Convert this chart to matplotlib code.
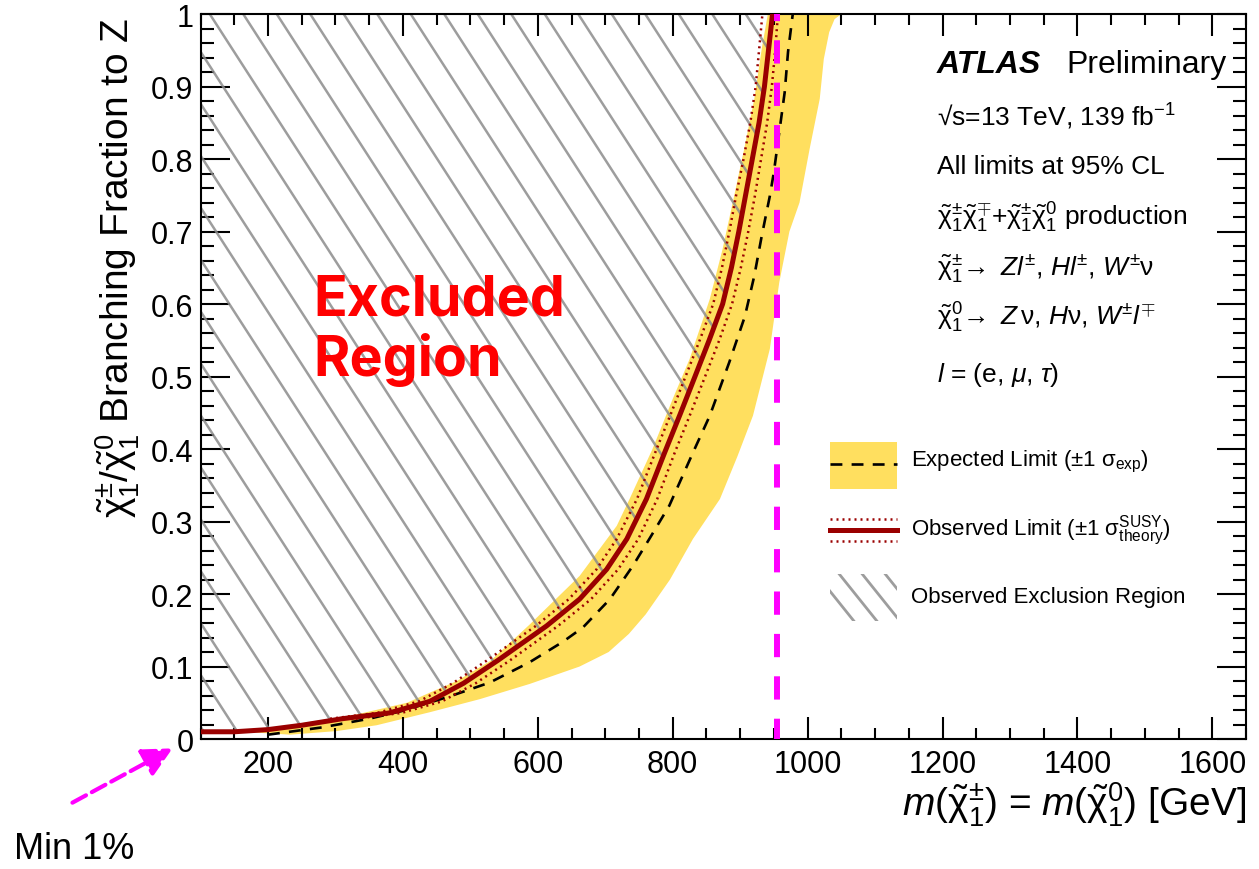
import numpy as np
import matplotlib.pyplot as plt
from matplotlib.patches import Polygon, Rectangle

plt.rcParams['font.family'] = ['Liberation Sans', 'DejaVu Sans']
plt.rcParams['mathtext.fontset'] = 'custom'
plt.rcParams['mathtext.rm'] = 'Liberation Sans'
plt.rcParams['mathtext.it'] = 'Liberation Sans:italic'
plt.rcParams['mathtext.bf'] = 'Liberation Sans:bold'

# observed limit (solid)
obs_x = [100, 150, 200, 250, 310, 380, 440, 490, 540, 613, 662, 702, 732, 761,
         788, 811, 833, 854, 874, 887, 898, 908, 918, 928, 936, 942, 948]
obs_y = [0.010, 0.010, 0.013, 0.019, 0.028, 0.036, 0.052, 0.077, 0.108, 0.156,
         0.193, 0.234, 0.276, 0.331, 0.395, 0.448, 0.500, 0.550, 0.600, 0.650,
         0.700, 0.750, 0.800, 0.850, 0.900, 0.950, 1.000]

# observed +-1 sigma theory (dotted)
thy_y = [0.028, 0.036, 0.052, 0.077, 0.108, 0.156, 0.193, 0.234, 0.276, 0.331,
         0.395, 0.448, 0.500, 0.550, 0.600, 0.650, 0.700, 0.750, 0.800, 0.850,
         0.900, 0.950, 1.000]
thy_up_x = [292, 362, 424, 474, 524, 597, 646, 687, 717, 747, 774, 797, 819,
            840, 860, 873, 884, 894, 905, 915, 923, 928, 933]
thy_dn_x = [330, 398, 458, 508, 558, 630, 679, 719, 749, 777, 803, 826, 848,
            869, 888, 901, 912, 922, 931, 940, 947, 952, 956]

# expected limit (dashed)
exp_x = [200, 280, 350, 400, 470, 529, 588, 637, 667, 707, 741, 766, 795, 830,
         855, 884, 907, 921, 932, 944, 950, 958, 966, 971, 978]
exp_y = [0.006, 0.016, 0.028, 0.039, 0.059, 0.078, 0.106, 0.134, 0.154, 0.193,
         0.239, 0.277, 0.322, 0.395, 0.446, 0.520, 0.583, 0.639, 0.694, 0.749,
         0.782, 0.837, 0.892, 0.948, 1.000]

# expected +-1 sigma band
band_lo_x = [180, 258, 332, 406, 440, 480, 530, 588, 662, 717, 736, 770, 800,
             825, 855, 874, 889, 906, 921, 932, 941]
band_lo_y = [0.012, 0.023, 0.034, 0.050, 0.064, 0.080, 0.108, 0.158, 0.225,
             0.294, 0.331, 0.400, 0.469, 0.524, 0.607, 0.676, 0.740, 0.814,
             0.883, 0.952, 1.000]
band_hi_x = [180, 233, 302, 361, 440, 514, 588, 662, 705, 735, 760, 796, 830,
             870, 896, 919, 944, 958, 973, 988, 1003, 1018, 1024, 1032, 1040,
             1050]
band_hi_y = [0.009, 0.006, 0.011, 0.019, 0.037, 0.055, 0.076, 0.100, 0.120,
             0.145, 0.172, 0.220, 0.276, 0.331, 0.390, 0.446, 0.538, 0.630,
             0.700, 0.740, 0.814, 0.883, 0.938, 0.975, 0.993, 1.000]

mass_cut = 955  # magenta vertical line

yellow = '#FFDF5F'
darkred = '#9A0000'
magenta = '#FF00FF'
hatch_gray = '#8C8C8C'

fig = plt.figure(figsize=(12.59, 8.70), dpi=100)
ax = fig.add_axes([0.1593, 0.1494, 0.8304, 0.8333])
ax.set_xlim(100, 1650)
ax.set_ylim(0, 1)

ax.fill(band_lo_x + band_hi_x[::-1], band_lo_y + band_hi_y[::-1],
        color=yellow, lw=0, zorder=1)

# hatched exclusion region, lines clipped to the area left of the observed limit
excl = Polygon(list(zip([100] + obs_x, [1.0] + obs_y)), closed=True,
               fc='none', ec='none', transform=ax.transData)
ax.add_patch(excl)
W, H = 1045.5, 725.0
slope = 1.55
spacing = 33.5 / W
drop = (H / slope) / W
for u0 in np.arange(-0.6, 1.0, spacing):
    ln, = ax.plot([u0, u0 + drop * 1.2], [1.0, -0.2], transform=ax.transAxes,
                  color=hatch_gray, lw=1.8, alpha=0.85, zorder=2)
    ln.set_clip_path(excl)

ax.plot(exp_x, exp_y, color='k', lw=1.9, ls=(0, (4.5, 3.5)), zorder=3)
ax.plot(thy_up_x, thy_y, color=darkred, lw=1.8, ls=(0, (0.8, 1.6)), zorder=4)
ax.plot(thy_dn_x, thy_y, color=darkred, lw=1.8, ls=(0, (0.8, 1.6)), zorder=4)
ax.plot(obs_x, obs_y, color=darkred, lw=3.6, zorder=5)

ax.plot([mass_cut, mass_cut], [0, 1], color=magenta, lw=4.3,
        ls=(0.5, (3.9, 3.2)), zorder=6)

# axes styling (ROOT-like)
ax.set_xticks(np.arange(200, 1601, 200))
ax.set_xticks(np.arange(100, 1651, 50), minor=True)
ax.set_yticks(np.arange(0, 1.001, 0.1))
ax.set_yticks(np.arange(0, 1.001, 0.02), minor=True)
ax.set_yticklabels(['0'] + [f'{v:.1f}' for v in np.arange(0.1, 0.95, 0.1)] + ['1'])
ax.tick_params(which='both', direction='in', top=True, right=True, width=1.5)
ax.tick_params(axis='x', which='major', length=16, labelsize=22, pad=7)
ax.tick_params(axis='x', which='minor', length=8)
ax.tick_params(axis='y', which='major', length=21, labelsize=22, pad=5)
ax.tick_params(axis='y', which='minor', length=9.5)
for sp in ax.spines.values():
    sp.set_linewidth(1.5)

ax.set_xlabel(r'$m(\tilde{\mathrm{\chi}}^{\pm}_{1})$ = $m(\tilde{\mathrm{\chi}}^{0}_{1})$ [GeV]',
              fontsize=28)
ax.xaxis.label.set_ha('right')
ax.xaxis.label.set_va('center')
ax.xaxis.set_label_coords(1.0, -0.09)
ax.set_ylabel(r'$\tilde{\mathrm{\chi}}^{\pm}_{1}/\tilde{\mathrm{\chi}}^{0}_{1}$ Branching Fraction to Z',
              fontsize=28)
ax.yaxis.label.set_ha('right')
ax.yaxis.label.set_va('center')
ax.yaxis.set_label_coords(-0.079, 0.997)

# annotation text block
tx = 0.7044
ax.text(tx, 0.931, 'ATLAS', transform=ax.transAxes, fontsize=23,
        fontweight='bold', fontstyle='italic', va='center')
ax.text(0.828, 0.931, 'Preliminary', transform=ax.transAxes, fontsize=23,
        va='center')
ax.text(tx, 0.859, '\u221as=13 TeV, 139 fb$^{-1}$',
        transform=ax.transAxes, fontsize=19, va='center')
ax.text(tx, 0.790, 'All limits at 95% CL', transform=ax.transAxes,
        fontsize=19, va='center')
ax.text(tx, 0.720,
        r'$\tilde{\mathrm{\chi}}^{\pm}_{1}\tilde{\mathrm{\chi}}^{\mp}_{1}$+'
        r'$\tilde{\mathrm{\chi}}^{\pm}_{1}\tilde{\mathrm{\chi}}^{0}_{1}$ production',
        transform=ax.transAxes, fontsize=19, va='center')
ax.text(tx, 0.651,
        r'$\tilde{\mathrm{\chi}}^{\pm}_{1}\!\rightarrow$ $Zl^{\pm}$, $Hl^{\pm}$, $W^{\pm}\mathrm{\nu}$',
        transform=ax.transAxes, fontsize=19, va='center')
ax.text(tx, 0.582,
        r'$\tilde{\mathrm{\chi}}^{0}_{1}\!\rightarrow$ $Z\,\mathrm{\nu}$, $H\mathrm{\nu}$, $W^{\pm}l^{\mp}$',
        transform=ax.transAxes, fontsize=19, va='center')
ax.text(tx, 0.503, r'$l$ = (e, $\mu$, $\tau$)', transform=ax.transAxes,
        fontsize=19, va='center')

# legend drawn by hand
lx0, lx1 = 0.602, 0.666
ax.add_patch(Rectangle((lx0, 0.345), lx1 - lx0, 0.065, transform=ax.transAxes,
                       fc=yellow, ec='none', zorder=7))
ax.plot([lx0, lx1], [0.379, 0.379], transform=ax.transAxes, color='k', lw=1.9,
        ls=(0, (4.5, 3.5)), zorder=8)
ax.plot([lx0, lx1], [0.288, 0.288], transform=ax.transAxes, color=darkred,
        lw=3.6, zorder=8)
for yy in (0.303, 0.273):
    ax.plot([lx0, lx1], [yy, yy], transform=ax.transAxes, color=darkred,
            lw=1.8, ls=(0, (0.8, 1.6)), zorder=8)
hbox = Rectangle((lx0, 0.163), lx1 - lx0, 0.065, transform=ax.transAxes,
                 fc='none', ec='none')
ax.add_patch(hbox)
for u0 in np.arange(lx0 - 0.02, lx1, 0.022):
    ln, = ax.plot([u0, u0 + 0.05], [0.24, 0.15], transform=ax.transAxes,
                  color=hatch_gray, lw=2.0, alpha=0.85, zorder=8)
    ln.set_clip_path(hbox)

ltx = 0.680
ax.text(ltx, 0.383, r'Expected Limit ($\pm$1 $\mathrm{\sigma}_{\mathrm{exp}}$)',
        transform=ax.transAxes, fontsize=16, va='center')
ax.text(ltx, 0.288,
        r'Observed Limit ($\pm$1 $\mathrm{\sigma}^{\mathrm{SUSY}}_{\mathrm{theory}}$)',
        transform=ax.transAxes, fontsize=16, va='center')
ax.text(ltx, 0.197, 'Observed Exclusion Region', transform=ax.transAxes,
        fontsize=16, va='center')

# overlay annotations
ax.text(0.1076, 0.585, 'Excluded', transform=ax.transAxes, color='#FF0000',
        fontsize=40, fontweight='bold', family=['Inter', 'DejaVu Sans'],
        va='baseline', zorder=9)
ax.text(0.1076, 0.502, 'Region', transform=ax.transAxes, color='#FF0000',
        fontsize=40, fontweight='bold', family=['Inter', 'DejaVu Sans'],
        va='baseline', zorder=9)

fig.text(14 / 1259, 1 - 850 / 870, 'Min 1%', fontsize=26, va='center', ha='left')
ax.annotate('', xy=(175 / 1259, 1 - 748 / 870), xytext=(70 / 1259, 1 - 805 / 870),
            xycoords='figure fraction', textcoords='figure fraction',
            annotation_clip=False,
            arrowprops=dict(arrowstyle='-|>,head_length=0.9,head_width=0.45',
                            color=magenta, lw=3, ls='--', mutation_scale=20))

fig.savefig('out.png', dpi=100)
